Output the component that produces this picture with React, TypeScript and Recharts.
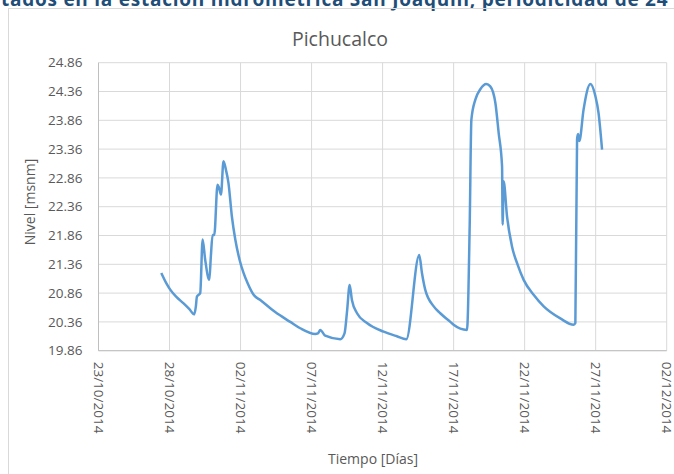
import { LineChart, Line, XAxis, YAxis, CartesianGrid } from 'recharts';

// días transcurridos desde el 23/10/2014
const dias = [
  4.42, 4.8, 5.05, 5.5, 5.99, 6.4, 6.74, 6.85, 6.93, 7.16, 7.33, 7.51, 7.8, 7.91, 8.03, 8.15,
  8.38, 8.47, 8.62, 8.8, 8.97, 9.15, 9.39, 9.63, 9.93, 10.21, 10.5, 10.92, 11.39, 12.44, 13.5,
  14.2, 15.26, 15.45, 15.61, 15.96, 17.02, 17.32, 17.5, 17.68, 17.84, 18.2, 18.9, 20.07, 21.0,
  21.67, 22.58, 22.77, 23.0, 23.6, 24.06, 24.77, 25.0, 25.94, 26.13, 26.25, 26.53, 26.88, 27.3,
  27.58, 27.94, 28.17, 28.41, 28.45, 28.52, 28.76, 29.11, 29.51, 29.93, 30.63, 31.34, 32.51,
  33.45, 33.57, 33.69, 33.76, 33.85, 34.15, 34.63, 34.98, 35.2, 35.45,
];

const nivel = [
  21.21, 21.02, 20.92, 20.79, 20.68, 20.58, 20.49, 20.62, 20.8, 20.86, 21.79, 21.44, 21.09, 21.5, 21.87, 21.87,
  22.74, 22.7, 22.57, 23.15, 23.0, 22.77, 22.19, 21.79, 21.44, 21.21, 21.03, 20.83, 20.74, 20.53, 20.36,
  20.25, 20.15, 20.16, 20.22, 20.12, 20.06, 20.16, 20.55, 21.0, 20.74, 20.51, 20.34, 20.19, 20.11,
  20.06, 21.52, 21.21, 20.92, 20.63, 20.51, 20.36, 20.31, 20.22, 22.02, 23.87, 24.22, 24.4, 24.49,
  24.45, 24.16, 23.64, 23.06, 22.05, 22.8, 22.19, 21.67, 21.35, 21.09, 20.83, 20.63, 20.42,
  20.31, 20.34, 23.53, 23.62, 23.5, 24.05, 24.49, 24.28, 23.99, 23.35,
];

const tickDias = [0, 5, 10, 15, 20, 25, 30, 35, 40];
const fechas = [
  '23/10/2014', '28/10/2014', '02/11/2014', '07/11/2014', '12/11/2014',
  '17/11/2014', '22/11/2014', '27/11/2014', '02/12/2014',
];
const tickNivel = [19.86, 20.36, 20.86, 21.36, 21.86, 22.36, 22.86, 23.36, 23.86, 24.36, 24.86];

const data = dias.map((d, i) => ({ dia: d, nivel: nivel[i] }));

const font = '"Open Sans", sans-serif';
const gris = '#595959';

const FechaTick = (props: any) => {
  const { x, y, payload } = props;
  const idx = tickDias.indexOf(payload.value);
  return (
    <text
      x={x}
      y={y}
      transform={`rotate(90, ${x}, ${y})`}
      textAnchor="start"
      dominantBaseline="central"
      fill={gris}
      fontSize={13.5}
      fontFamily={font}
    >
      {fechas[idx]}
    </text>
  );
};

export default function App() {
  return (
    <div style={{ position: 'absolute', left: 0, top: 0, width: 674, height: 474, overflow: 'hidden', background: '#fff' }}>
      {/* texto del documento, cortado arriba */}
      <div style={{
        position: 'absolute', left: 1, top: -9.6, whiteSpace: 'nowrap', fontFamily: font,
        fontWeight: 700, fontSize: 19, lineHeight: '19px', letterSpacing: 0.75, color: '#1f4e79',
      }}>
        tados en la estación hidrométrica San Joaquín, periodicidad de 24
      </div>
      <div style={{ position: 'absolute', left: 8, top: 8, width: 700, height: 500, border: '1px solid #d9d9d9' }} />

      <div style={{ position: 'absolute', left: 0, top: 0 }}>
        <LineChart width={674} height={474} data={data} margin={{ top: 62.7, right: 7.3, bottom: 23.3, left: 38.5 }}>
          <CartesianGrid stroke="#d9d9d9" strokeWidth={1} />
          <XAxis
            type="number"
            dataKey="dia"
            domain={[0, 40]}
            ticks={tickDias}
            interval={0}
            height={100}
            tickSize={0}
            tickMargin={11}
            tick={<FechaTick />}
            axisLine={{ stroke: '#bfbfbf' }}
          />
          <YAxis
            type="number"
            domain={[19.86, 24.86]}
            ticks={tickNivel}
            interval={0}
            width={60}
            tickSize={0}
            tickMargin={16}
            tickFormatter={(v: number) => v.toFixed(2)}
            tick={{ fill: gris, fontSize: 13.5, fontFamily: font }}
            axisLine={{ stroke: '#bfbfbf' }}
          />
          <Line
            type="monotone"
            dataKey="nivel"
            stroke="#5b9bd5"
            strokeWidth={2.5}
            dot={false}
            isAnimationActive={false}
            strokeLinejoin="round"
          />
        </LineChart>
      </div>

      <div style={{
        position: 'absolute', left: 240, width: 200, top: 26, textAlign: 'center',
        fontFamily: font, fontSize: 19.5, color: gris, lineHeight: '26px',
      }}>
        Pichucalco
      </div>
      <div style={{
        position: 'absolute', left: 28.5, top: 202, transform: 'translate(-50%, -50%) rotate(-90deg)',
        whiteSpace: 'nowrap', fontFamily: font, fontSize: 14, color: gris,
      }}>
        Nivel [msnm]
      </div>
      <div style={{
        position: 'absolute', left: 373, top: 458, transform: 'translate(-50%, -50%)',
        whiteSpace: 'nowrap', fontFamily: font, fontSize: 14, color: gris,
      }}>
        Tiempo [Días]
      </div>
    </div>
  );
}
